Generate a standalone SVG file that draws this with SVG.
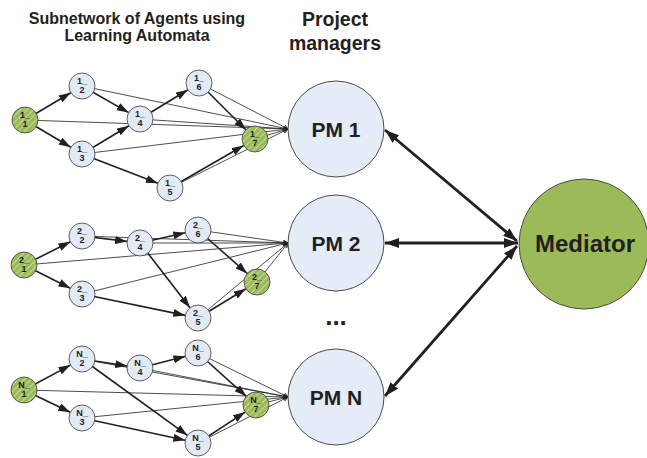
<svg xmlns="http://www.w3.org/2000/svg" width="647" height="458" viewBox="0 0 647 458">
<style>
.hdr{font-family:"Liberation Sans",Arial,sans-serif;font-weight:bold;fill:#231f20;text-anchor:middle}
.thin{stroke:#231f20;stroke-width:0.8;fill:none;marker-end:url(#openArr)}
.thick{stroke:#231f20;stroke-width:1.6;fill:none;marker-end:url(#arr)}
.big{stroke:#231f20;stroke-width:2.8;fill:none;marker-start:url(#bigArr);marker-end:url(#bigArr)}
.n{fill:#e2eaf5;stroke:#3a3a3a;stroke-width:0.8}
.gh{fill:url(#hatch);stroke:none}
.gs{fill:none;stroke:#3a3a3a;stroke-width:0.8}
.nt{font-family:"Liberation Sans",Arial,sans-serif;font-weight:bold;font-size:9px;fill:#231f20;text-anchor:middle}
.pm{fill:#e4ecf7;stroke:#3a3a3a;stroke-width:0.9}
.pmt{font-family:"Liberation Sans",Arial,sans-serif;font-weight:bold;font-size:21px;fill:#231f20;text-anchor:middle}
</style>
<defs>
<marker id="arr" markerUnits="userSpaceOnUse" markerWidth="13" markerHeight="9" refX="12" refY="4" orient="auto"><path d="M0,0 L12,4 L0,8 z" fill="#231f20"/></marker>
<marker id="openArr" markerUnits="userSpaceOnUse" markerWidth="7" markerHeight="7" refX="5" refY="2.5" orient="auto"><path d="M0,0 L5,2.5 L0,5" fill="none" stroke="#231f20" stroke-width="0.7"/></marker>
<marker id="bigArr" markerUnits="userSpaceOnUse" markerWidth="16" markerHeight="12" refX="14" refY="5" orient="auto-start-reverse"><path d="M0,0 L14,5 L0,10 z" fill="#231f20"/></marker>
<pattern id="hatch" patternUnits="userSpaceOnUse" width="4.5" height="4.5" patternTransform="rotate(45)"><rect width="4.5" height="4.5" fill="#9bbb59"/><line x1="2.2" y1="0" x2="2.2" y2="4.5" stroke="#ffffff" stroke-opacity="0.55" stroke-width="0.8"/></pattern>
</defs>

<g id="headers">
<text class="hdr" x="137" y="24" font-size="16">Subnetwork of Agents using</text>
<text class="hdr" x="137" y="41" font-size="16">Learning Automata</text>
<text class="hdr" x="335" y="26" font-size="19.5">Project</text>
<text class="hdr" x="335" y="50" font-size="19.5">managers</text>
<text class="hdr" x="336" y="325" font-size="26">...</text>
</g>

<g id="connectors">
<line class="thin" x1="25" y1="120" x2="288" y2="129"/>
<line class="thin" x1="82" y1="86" x2="288" y2="129"/>
<line class="thin" x1="82" y1="154" x2="288" y2="129"/>
<line class="thin" x1="140" y1="119" x2="288" y2="129"/>
<line class="thin" x1="199" y1="83" x2="288" y2="129"/>
<line class="thin" x1="170" y1="188" x2="288" y2="129"/>
<line class="thin" x1="255" y1="139" x2="288" y2="129"/>
<line class="thick" x1="25" y1="120" x2="70.8" y2="92.7"/>
<line class="thick" x1="25" y1="120" x2="70.8" y2="147.3"/>
<line class="thick" x1="82" y1="86" x2="128.7" y2="112.6"/>
<line class="thick" x1="82" y1="154" x2="128.9" y2="125.7"/>
<line class="thick" x1="140" y1="119" x2="187.9" y2="89.8"/>
<line class="thick" x1="199" y1="83" x2="245.8" y2="129.8"/>
<line class="thick" x1="82" y1="154" x2="157.9" y2="183.3"/>
<line class="thick" x1="170" y1="188" x2="243.7" y2="145.5"/>

<line class="thin" x1="24" y1="265" x2="288" y2="243"/>
<line class="thin" x1="82" y1="236" x2="288" y2="243"/>
<line class="thin" x1="82" y1="294" x2="288" y2="243"/>
<line class="thin" x1="140" y1="243" x2="288" y2="243"/>
<line class="thin" x1="198" y1="230" x2="288" y2="243"/>
<line class="thin" x1="198" y1="318" x2="288" y2="243"/>
<line class="thin" x1="257" y1="282" x2="288" y2="243"/>
<line class="thick" x1="24" y1="265" x2="70.4" y2="241.8"/>
<line class="thick" x1="24" y1="265" x2="70.4" y2="288.2"/>
<line class="thick" x1="82" y1="236" x2="127.1" y2="241.4"/>
<line class="thick" x1="140" y1="243" x2="185.3" y2="232.8"/>
<line class="thick" x1="140" y1="243" x2="190" y2="307.7"/>
<line class="thick" x1="82" y1="294" x2="185.3" y2="315.4"/>
<line class="thick" x1="198" y1="230" x2="247.2" y2="273.4"/>
<line class="thick" x1="198" y1="318" x2="245.9" y2="288.8"/>

<line class="thin" x1="24" y1="390" x2="288" y2="397"/>
<line class="thin" x1="82" y1="359" x2="288" y2="397"/>
<line class="thin" x1="82" y1="418" x2="288" y2="397"/>
<line class="thin" x1="140" y1="368" x2="288" y2="397"/>
<line class="thin" x1="198" y1="353" x2="288" y2="397"/>
<line class="thin" x1="198" y1="443" x2="288" y2="397"/>
<line class="thin" x1="256" y1="405" x2="288" y2="397"/>
<line class="thick" x1="24" y1="390" x2="70.5" y2="365.1"/>
<line class="thick" x1="24" y1="390" x2="70.3" y2="412.3"/>
<line class="thick" x1="82" y1="359" x2="127.2" y2="366"/>
<line class="thick" x1="140" y1="368" x2="185.4" y2="356.3"/>
<line class="thick" x1="82" y1="359" x2="187.5" y2="435.4"/>
<line class="thick" x1="82" y1="418" x2="185.3" y2="440.3"/>
<line class="thick" x1="198" y1="353" x2="246.3" y2="396.3"/>
<line class="thick" x1="198" y1="443" x2="245.1" y2="412.1"/>

<line class="big" x1="385" y1="130" x2="517" y2="241"/>
<line class="big" x1="385" y1="243" x2="518" y2="243"/>
<line class="big" x1="385" y1="396" x2="517" y2="246"/>
</g>

<g id="n1_1"><circle class="gh" cx="25" cy="120" r="13"/><circle class="gs" cx="25" cy="120" r="13"/><text class="nt" x="25" y="118">1_</text><text class="nt" x="25" y="127.3">1</text></g>
<g id="n1_2"><circle class="n" cx="82" cy="86" r="13"/><text class="nt" x="82" y="84">1_</text><text class="nt" x="82" y="93.3">2</text></g>
<g id="n1_3"><circle class="n" cx="82" cy="154" r="13"/><text class="nt" x="82" y="152">1_</text><text class="nt" x="82" y="161.3">3</text></g>
<g id="n1_4"><circle class="n" cx="140" cy="119" r="13"/><text class="nt" x="140" y="117">1_</text><text class="nt" x="140" y="126.3">4</text></g>
<g id="n1_6"><circle class="n" cx="199" cy="83" r="13"/><text class="nt" x="199" y="81">1_</text><text class="nt" x="199" y="90.3">6</text></g>
<g id="n1_5"><circle class="n" cx="170" cy="188" r="13"/><text class="nt" x="170" y="186">1_</text><text class="nt" x="170" y="195.3">5</text></g>
<g id="n1_7"><circle class="gh" cx="255" cy="139" r="13"/><circle class="gs" cx="255" cy="139" r="13"/><text class="nt" x="255" y="137">1_</text><text class="nt" x="255" y="146.3">7</text></g>

<g id="n2_1"><circle class="gh" cx="24" cy="265" r="13"/><circle class="gs" cx="24" cy="265" r="13"/><text class="nt" x="24" y="263">2_</text><text class="nt" x="24" y="272.3">1</text></g>
<g id="n2_2"><circle class="n" cx="82" cy="236" r="13"/><text class="nt" x="82" y="234">2_</text><text class="nt" x="82" y="243.3">2</text></g>
<g id="n2_3"><circle class="n" cx="82" cy="294" r="13"/><text class="nt" x="82" y="292">2_</text><text class="nt" x="82" y="301.3">3</text></g>
<g id="n2_4"><circle class="n" cx="140" cy="243" r="13"/><text class="nt" x="140" y="241">2_</text><text class="nt" x="140" y="250.3">4</text></g>
<g id="n2_6"><circle class="n" cx="198" cy="230" r="13"/><text class="nt" x="198" y="228">2_</text><text class="nt" x="198" y="237.3">6</text></g>
<g id="n2_5"><circle class="n" cx="198" cy="318" r="13"/><text class="nt" x="198" y="316">2_</text><text class="nt" x="198" y="325.3">5</text></g>
<g id="n2_7"><circle class="gh" cx="257" cy="282" r="13"/><circle class="gs" cx="257" cy="282" r="13"/><text class="nt" x="257" y="280">2_</text><text class="nt" x="257" y="289.3">7</text></g>

<g id="nN_1"><circle class="gh" cx="24" cy="390" r="13"/><circle class="gs" cx="24" cy="390" r="13"/><text class="nt" x="24" y="388">N_</text><text class="nt" x="24" y="397.3">1</text></g>
<g id="nN_2"><circle class="n" cx="82" cy="359" r="13"/><text class="nt" x="82" y="357">N_</text><text class="nt" x="82" y="366.3">2</text></g>
<g id="nN_3"><circle class="n" cx="82" cy="418" r="13"/><text class="nt" x="82" y="416">N_</text><text class="nt" x="82" y="425.3">3</text></g>
<g id="nN_4"><circle class="n" cx="140" cy="368" r="13"/><text class="nt" x="140" y="366">N_</text><text class="nt" x="140" y="375.3">4</text></g>
<g id="nN_6"><circle class="n" cx="198" cy="353" r="13"/><text class="nt" x="198" y="351">N_</text><text class="nt" x="198" y="360.3">6</text></g>
<g id="nN_5"><circle class="n" cx="198" cy="443" r="13"/><text class="nt" x="198" y="441">N_</text><text class="nt" x="198" y="450.3">5</text></g>
<g id="nN_7"><circle class="gh" cx="256" cy="405" r="13"/><circle class="gs" cx="256" cy="405" r="13"/><text class="nt" x="256" y="403">N_</text><text class="nt" x="256" y="412.3">7</text></g>

<g id="pm1"><circle class="pm" cx="336" cy="129" r="48"/><text class="pmt" x="336" y="137">PM 1</text></g>
<g id="pm2"><circle class="pm" cx="336" cy="243" r="48"/><text class="pmt" x="336" y="251">PM 2</text></g>
<g id="pmN"><circle class="pm" cx="336" cy="397" r="48"/><text class="pmt" x="336" y="405">PM N</text></g>

<g id="mediator"><circle cx="584" cy="244" r="65" fill="#9bbb59" stroke="#3a3a3a" stroke-width="0.9"/><text x="585" y="252" font-family="Liberation Sans, Arial, sans-serif" font-weight="bold" font-size="24" fill="#231f20" text-anchor="middle">Mediator</text></g>
</svg>
